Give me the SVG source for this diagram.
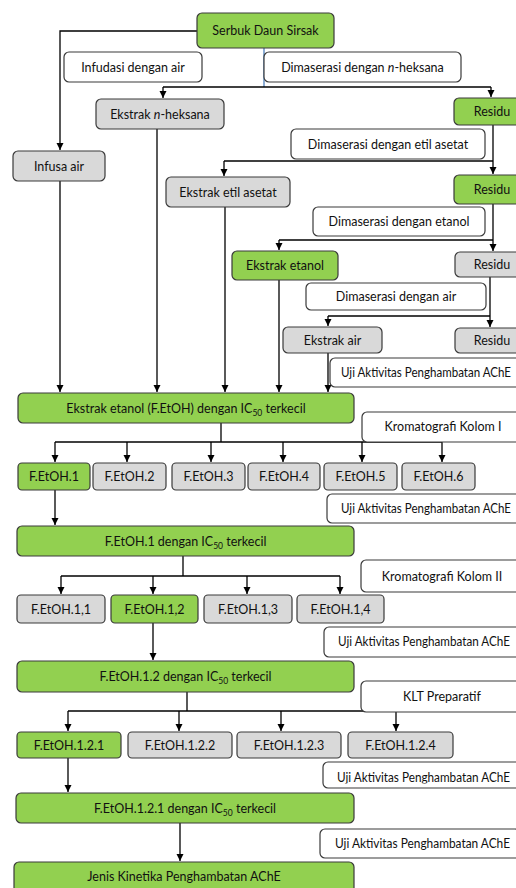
<svg xmlns="http://www.w3.org/2000/svg" width="516" height="888" viewBox="0 0 516 888">
<style>
rect{stroke:#3a3a3a;stroke-width:1.2}
.g{fill:#92d050}
.y{fill:#d9d9d9}
.w{fill:#ffffff}
text{font-family:Lato,"Open Sans","Liberation Sans",sans-serif;font-size:12.5px;fill:#111}
.c{text-anchor:middle}
.sub{font-size:8.5px}
.con path{fill:none;stroke:#000;stroke-width:1.3}
.con path.a{marker-end:url(#arr)}
</style>
<defs>
<marker id="arr" markerUnits="userSpaceOnUse" markerWidth="8" markerHeight="8" refX="7" refY="3.5" orient="auto">
<path d="M0,0 L7,3.5 L0,7 z" fill="#000"/>
</marker>
<clipPath id="clipUii"><rect x="320" y="760" width="200" height="23.5"/></clipPath>
</defs>

<g class="con" id="connectors">
<path d="M197,31 H60 V150" class="a"/>
<path d="M264,48 V87" style="stroke:#4f81bd"/>
<path d="M163,87 H491"/>
<path d="M163,87 V98" class="a"/>
<path d="M491,87 V97" class="a"/>
<path d="M157,129 V392" class="a"/>
<path d="M60,181 V392" class="a"/>
<path d="M493,125 V174" class="a"/>
<path d="M224,161 H493"/>
<path d="M224,161 V176" class="a"/>
<path d="M225,207 V392" class="a"/>
<path d="M493,204 V251" class="a"/>
<path d="M279,240 H493"/>
<path d="M279,240 V250" class="a"/>
<path d="M279,280 V392" class="a"/>
<path d="M490,277 V327" class="a"/>
<path d="M328,316 H490"/>
<path d="M328,316 V326" class="a"/>
<path d="M328,353 V392" class="a"/>
<path d="M221,423 V442"/>
<path d="M55,442 H442"/>
<path d="M55,442 V462" class="a"/>
<path d="M127,442 V462" class="a"/>
<path d="M211,442 V462" class="a"/>
<path d="M283,442 V462" class="a"/>
<path d="M362,442 V462" class="a"/>
<path d="M442,442 V462" class="a"/>
<path d="M55,490 V525" class="a"/>
<path d="M183,556 V576"/>
<path d="M61,576 H340"/>
<path d="M61,576 V594" class="a"/>
<path d="M153,576 V594" class="a"/>
<path d="M247,576 V594" class="a"/>
<path d="M340,576 V594" class="a"/>
<path d="M153,623 V660" class="a"/>
<path d="M187,692 V711"/>
<path d="M68,711 H396"/>
<path d="M68,711 V731" class="a"/>
<path d="M179,711 V731" class="a"/>
<path d="M281,711 V731" class="a"/>
<path d="M396,711 V731" class="a"/>
<path d="M68,758 V792" class="a"/>
<path d="M180,823 V861" class="a"/>
</g>

<g id="n-serbuk"><rect class="g" x="197" y="13" width="137" height="35" rx="5"/><text class="c" x="265.5" y="35">Serbuk Daun Sirsak</text></g>
<g id="l-infudasi"><rect class="w" x="64" y="52" width="138" height="30" rx="5"/><text class="c" x="133" y="71.5">Infudasi dengan air</text></g>
<g id="l-mas-heksana"><rect class="w" x="264" y="52" width="197" height="30" rx="5"/><text class="c" x="362.5" y="71.5">Dimaserasi dengan <tspan font-style="italic">n</tspan>-heksana</text></g>
<g id="n-ek-heksana"><rect class="y" x="96" y="99" width="128" height="30" rx="5"/><text class="c" x="160" y="118.5">Ekstrak <tspan font-style="italic">n</tspan>-heksana</text></g>
<g id="n-residu1"><rect class="g" x="454" y="98" width="70" height="27" rx="5"/><text class="c" x="492" y="116">Residu</text></g>
<g id="n-infusa"><rect class="y" x="13" y="151" width="92" height="30" rx="5"/><text class="c" x="59" y="170.5">Infusa air</text></g>
<g id="l-mas-etil"><rect class="w" x="291" y="129" width="194" height="30" rx="5"/><text class="c" x="388" y="148.5">Dimaserasi dengan etil asetat</text></g>
<g id="n-ek-etil"><rect class="y" x="166" y="177" width="124" height="30" rx="5"/><text class="c" x="228" y="196.5">Ekstrak etil asetat</text></g>
<g id="n-residu2"><rect class="g" x="454" y="175" width="70" height="29" rx="5"/><text class="c" x="492" y="194">Residu</text></g>
<g id="l-mas-etanol"><rect class="w" x="313" y="207" width="172" height="29" rx="5"/><text class="c" x="399" y="226">Dimaserasi dengan etanol</text></g>
<g id="n-ek-etanol"><rect class="g" x="232" y="251" width="106" height="29" rx="5"/><text class="c" x="285" y="270">Ekstrak etanol</text></g>
<g id="n-residu3"><rect class="y" x="455" y="252" width="70" height="25" rx="5"/><text class="c" x="492" y="269">Residu</text></g>
<g id="l-mas-air"><rect class="w" x="306" y="283" width="180" height="27" rx="5"/><text class="c" x="396" y="301">Dimaserasi dengan air</text></g>
<g id="n-ek-air"><rect class="y" x="283" y="327" width="99" height="26" rx="5"/><text class="c" x="332.5" y="344.5">Ekstrak air</text></g>
<g id="n-residu4"><rect class="y" x="455" y="328" width="70" height="25" rx="5"/><text class="c" x="492" y="345">Residu</text></g>
<g id="l-uji1"><rect class="w" x="330" y="358" width="200" height="29" rx="5"/><text x="341" y="377" textLength="170" lengthAdjust="spacingAndGlyphs">Uji Aktivitas Penghambatan AChE</text></g>
<g id="n-fetoh"><rect class="g" x="18" y="393" width="336" height="30" rx="5"/><text class="c" x="186" y="412.5">Ekstrak etanol (F.EtOH) dengan IC<tspan class="sub" dy="3">50</tspan><tspan dy="-3"> terkecil</tspan></text></g>
<g id="l-kk1"><rect class="w" x="362" y="412" width="160" height="30" rx="5"/><text class="c" x="443" y="431">Kromatografi Kolom I</text></g>

<g id="n-f1"><rect class="g" x="18" y="463" width="72" height="27" rx="4"/><text class="c" x="54" y="481">F.EtOH.1</text></g>
<g id="n-f2"><rect class="y" x="93" y="463" width="73" height="27" rx="4"/><text class="c" x="129.5" y="481">F.EtOH.2</text></g>
<g id="n-f3"><rect class="y" x="172" y="463" width="73" height="27" rx="4"/><text class="c" x="208.5" y="481">F.EtOH.3</text></g>
<g id="n-f4"><rect class="y" x="248" y="463" width="72" height="27" rx="4"/><text class="c" x="284" y="481">F.EtOH.4</text></g>
<g id="n-f5"><rect class="y" x="324" y="463" width="73" height="27" rx="4"/><text class="c" x="360.5" y="481">F.EtOH.5</text></g>
<g id="n-f6"><rect class="y" x="402" y="463" width="73" height="27" rx="4"/><text class="c" x="438.5" y="481">F.EtOH.6</text></g>

<g id="l-uji2"><rect class="w" x="327" y="494" width="200" height="29" rx="5"/><text x="341" y="513" textLength="170" lengthAdjust="spacingAndGlyphs">Uji Aktivitas Penghambatan AChE</text></g>
<g id="n-f1best"><rect class="g" x="17" y="526" width="337" height="30" rx="5"/><text class="c" x="185.5" y="545.5">F.EtOH.1 dengan IC<tspan class="sub" dy="3">50</tspan><tspan dy="-3"> terkecil</tspan></text></g>
<g id="l-kk2"><rect class="w" x="361" y="560" width="160" height="32" rx="5"/><text class="c" x="442" y="580.5">Kromatografi Kolom II</text></g>

<g id="n-f11"><rect class="y" x="17" y="595" width="88" height="28" rx="4"/><text class="c" x="61" y="613.5">F.EtOH.1,1</text></g>
<g id="n-f12"><rect class="g" x="111" y="595" width="87" height="28" rx="4"/><text class="c" x="154.5" y="613.5">F.EtOH.1,2</text></g>
<g id="n-f13"><rect class="y" x="204" y="595" width="88" height="28" rx="4"/><text class="c" x="248" y="613.5">F.EtOH.1,3</text></g>
<g id="n-f14"><rect class="y" x="297" y="595" width="87" height="28" rx="4"/><text class="c" x="340.5" y="613.5">F.EtOH.1,4</text></g>

<g id="l-uji3"><rect class="w" x="324" y="627" width="200" height="30" rx="5"/><text x="338" y="646" textLength="172" lengthAdjust="spacingAndGlyphs">Uji Aktivitas Penghambatan AChE</text></g>
<g id="n-f12best"><rect class="g" x="17" y="661" width="337" height="31" rx="5"/><text class="c" x="185.5" y="681">F.EtOH.1.2 dengan IC<tspan class="sub" dy="3">50</tspan><tspan dy="-3"> terkecil</tspan></text></g>
<g id="l-klt"><rect class="w" x="361" y="681" width="160" height="31" rx="5"/><text class="c" x="442" y="701">KLT Preparatif</text></g>

<g id="n-f121"><rect class="g" x="17" y="732" width="104" height="26" rx="4"/><text class="c" x="69" y="749.5">F.EtOH.1.2.1</text></g>
<g id="n-f122"><rect class="y" x="128" y="732" width="104" height="26" rx="4"/><text class="c" x="180" y="749.5">F.EtOH.1.2.2</text></g>
<g id="n-f123"><rect class="y" x="237" y="732" width="104" height="26" rx="4"/><text class="c" x="289" y="749.5">F.EtOH.1.2.3</text></g>
<g id="n-f124"><rect class="y" x="348" y="732" width="105" height="26" rx="4"/><text class="c" x="400.5" y="749.5">F.EtOH.1.2.4</text></g>

<g id="l-uji4"><rect class="w" x="323" y="762" width="200" height="26" rx="5"/><text x="337" y="782" textLength="173" lengthAdjust="spacingAndGlyphs" clip-path="url(#clipUii)">Uji Aktivitas Penghambatan AChE</text></g>
<g id="n-f121best"><rect class="g" x="16" y="793" width="338" height="30" rx="5"/><text class="c" x="185" y="812.5">F.EtOH.1.2.1 dengan IC<tspan class="sub" dy="3">50</tspan><tspan dy="-3"> terkecil</tspan></text></g>
<g id="l-uji5"><rect class="w" x="320" y="829" width="200" height="29" rx="5"/><text x="335" y="848" textLength="175" lengthAdjust="spacingAndGlyphs">Uji Aktivitas Penghambatan AChE</text></g>
<g id="n-jenis"><rect class="g" x="14" y="862" width="340" height="32" rx="5"/><text class="c" x="184" y="881">Jenis Kinetika Penghambatan AChE</text></g>
</svg>
